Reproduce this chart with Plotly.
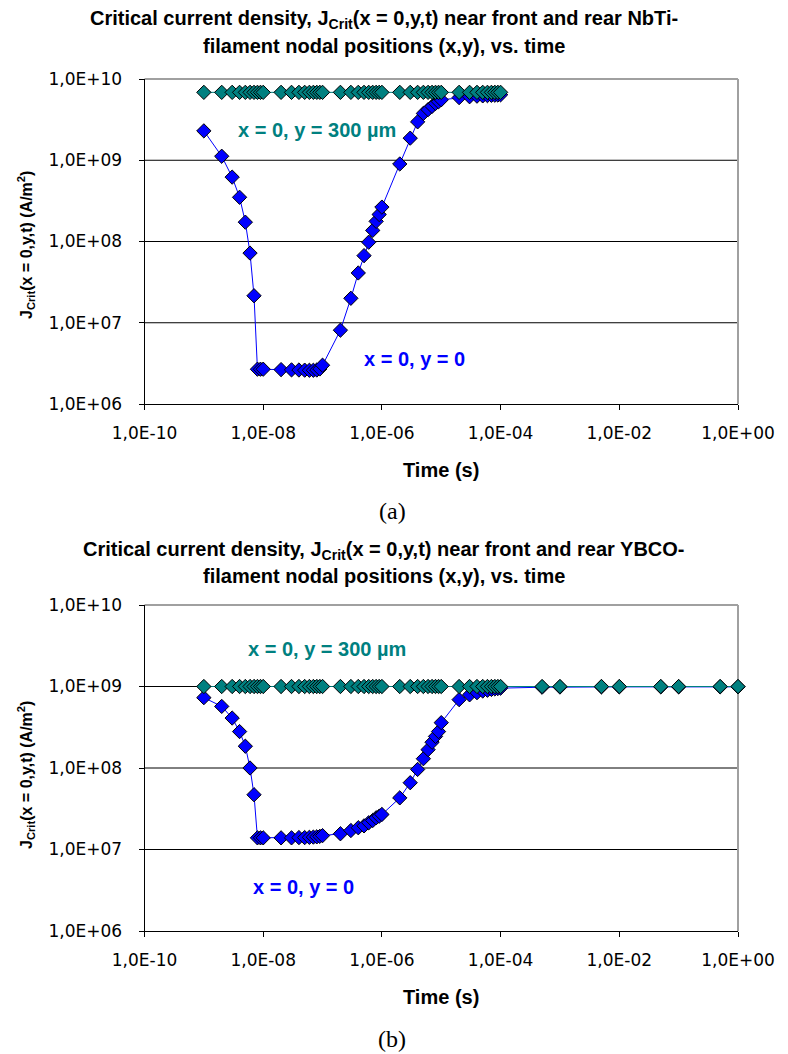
import plotly.graph_objects as go

# ---------------- data ----------------
time_a = [1e-9, 2e-9, 3e-9, 4e-9, 5e-9, 6e-9, 7e-9, 8e-9, 9e-9,
          1e-8, 2e-8, 3e-8, 4e-8, 5e-8, 6e-8, 7e-8, 8e-8, 9e-8,
          1e-7, 2e-7, 3e-7, 4e-7, 5e-7, 6e-7, 7e-7, 8e-7, 9e-7,
          1e-6, 2e-6, 3e-6, 4e-6, 5e-6, 6e-6, 7e-6, 8e-6, 9e-6,
          1e-5, 2e-5, 3e-5, 4e-5, 5e-5, 6e-5, 7e-5, 8e-5, 9e-5,
          1e-4]

nbti_y0 = [2.3e9, 1.12e9, 6.2e8, 3.5e8, 1.73e8, 7.2e7, 2.15e7, 2.68e6, 2.68e6,
           2.68e6, 2.65e6, 2.63e6, 2.62e6, 2.61e6, 2.6e6, 2.6e6, 2.62e6, 2.7e6,
           3.0e6, 8.1e6, 2.0e7, 4.1e7, 6.7e7, 9.8e7, 1.37e8, 1.77e8, 2.15e8,
           2.65e8, 9.0e8, 1.87e9, 2.97e9, 3.77e9, 4.2e9, 4.6e9, 5.0e9, 5.25e9,
           5.55e9, 5.9e9, 6.05e9, 6.15e9, 6.2e9, 6.25e9, 6.3e9, 6.32e9, 6.35e9,
           6.4e9]

nbti_y300 = [6.85e9] * 46

time_b = [1e-9, 2e-9, 3e-9, 4e-9, 5e-9, 6e-9, 7e-9, 8e-9, 9e-9,
          1e-8, 2e-8, 3e-8, 4e-8, 5e-8, 6e-8, 7e-8, 8e-8, 9e-8,
          1e-7, 2e-7, 3e-7, 4e-7, 5e-7, 6e-7, 7e-7, 8e-7, 9e-7,
          1e-6, 2e-6, 3e-6, 4e-6, 5e-6, 6e-6, 7e-6, 8e-6, 9e-6,
          1e-5, 2e-5, 3e-5, 4e-5, 5e-5, 6e-5, 7e-5, 8e-5, 9e-5,
          1e-4, 5e-4, 1e-3, 5e-3, 1e-2, 5e-2, 1e-1, 5e-1, 1e0]

ybco_y0 = [7.3e8, 5.7e8, 4.1e8, 2.8e8, 1.85e8, 1.0e8, 4.7e7, 1.39e7, 1.39e7,
           1.39e7, 1.39e7, 1.39e7, 1.4e7, 1.4e7, 1.41e7, 1.42e7, 1.43e7, 1.45e7,
           1.48e7, 1.56e7, 1.71e7, 1.85e7, 1.95e7, 2.13e7, 2.27e7, 2.45e7, 2.56e7,
           2.69e7, 4.3e7, 6.6e7, 9.6e7, 1.3e8, 1.68e8, 2.07e8, 2.44e8, 2.8e8,
           3.6e8, 6.9e8, 7.9e8, 8.4e8, 8.8e8, 9.0e8, 9.2e8, 9.35e8, 9.45e8,
           9.55e8, 9.8e8, 9.85e8, 9.9e8, 9.9e8, 9.9e8, 9.9e8, 9.9e8, 9.9e8]

ybco_y300 = [1.0e9] * 54

x_tickvals = [1e-10, 1e-8, 1e-6, 1e-4, 1e-2, 1e0]
x_ticktext = ["1,0E-10", "1,0E-08", "1,0E-06", "1,0E-04", "1,0E-02", "1,0E+00"]
y_tickvals = [1e6, 1e7, 1e8, 1e9, 1e10]
y_ticktext = ["1,0E+06", "1,0E+07", "1,0E+08", "1,0E+09", "1,0E+10"]

title_a = ["Critical current density, J<sub>Crit</sub>(x = 0,y,t) near front and rear NbTi-",
           "filament nodal positions (x,y), vs. time"]
title_b = ["Critical current density, J<sub>Crit</sub>(x = 0,y,t) near front and rear YBCO-",
           "filament nodal positions (x,y), vs. time"]
ytitle = "J<sub>Crit</sub>(x = 0,y,t) (A/m<sup>2</sup>)"
xtitle = "Time (s)"
label_300 = "x = 0, y = 300 µm"
label_0 = "x = 0, y = 0"

# ---------------- style ----------------
W, H = 788, 1054
BLUE = "#0000FF"
TEAL = "#008080"
SANS = "Liberation Sans, Arial, sans-serif"
TICKSANS = "DejaVu Sans, Verdana, sans-serif"

def px(x):
    return x / W

def py(y):
    return 1 - y / H

X0, X1 = 144.5, 738
PANELS = [  # top, bottom pixel of plot area
    (79, 404),
    (605, 931),
]

fig = go.Figure()

marker_common = dict(symbol="diamond", size=11, line=dict(color="black", width=1))

series = [
    (time_a, nbti_y0, nbti_y300, "x", "y"),
    (time_b, ybco_y0, ybco_y300, "x2", "y2"),
]
for t, y0, y300, xa, ya in series:
    fig.add_trace(go.Scatter(x=t, y=y0, mode="lines+markers", xaxis=xa, yaxis=ya,
                             line=dict(color=BLUE, width=1), cliponaxis=False,
                             marker=dict(color=BLUE, **marker_common)))
    fig.add_trace(go.Scatter(x=t, y=y300, mode="lines+markers", xaxis=xa, yaxis=ya,
                             line=dict(color=TEAL, width=1), cliponaxis=False,
                             marker=dict(color=TEAL, **marker_common)))

tickfont = dict(family=TICKSANS, size=17, color="black")
for i, (top, bot) in enumerate(PANELS):
    sfx = "" if i == 0 else str(i + 1)
    fig.update_layout(**{
        "xaxis" + sfx: dict(
            domain=[px(X0), px(X1)], anchor="y" + sfx, type="log", range=[-10, 0],
            tickvals=x_tickvals, ticktext=x_ticktext, ticks="outside", ticklen=5,
            tickcolor="black", showline=True, linecolor="black", linewidth=1,
            showgrid=False, zeroline=False, tickfont=tickfont, ticklabelstandoff=9,
            automargin=False,
        ),
        "yaxis" + sfx: dict(
            domain=[py(bot), py(top)], anchor="x" + sfx, type="log", range=[6, 10],
            tickvals=y_tickvals, ticktext=y_ticktext, ticks="outside", ticklen=5,
            tickcolor="black", showline=True, linecolor="black", linewidth=1,
            showgrid=False, zeroline=False,
            tickfont=tickfont, ticklabelstandoff=13, automargin=False,
        ),
    })
    xd = "x" + sfx + " domain"
    yd = "y" + sfx + " domain"
    # horizontal gridlines at 1E+07, 1E+08, 1E+09 (domain fractions of the 4-decade axis)
    for frac in (0.25, 0.5, 0.75):
        fig.add_shape(type="line", xref=xd, yref=yd, x0=0, x1=1, y0=frac, y1=frac,
                      line=dict(color="black", width=1), layer="below")
    # gray plot-area border (top & right)
    fig.add_shape(type="line", xref=xd, yref=yd, x0=0, x1=1, y0=1, y1=1,
                  line=dict(color="#A0A0A0", width=2), layer="below")
    fig.add_shape(type="line", xref=xd, yref=yd, x0=1, x1=1, y0=0, y1=1,
                  line=dict(color="#A0A0A0", width=2), layer="below")

def ann(text, x, y, size, color="black", bold=True, family=SANS, angle=0):
    fig.add_annotation(text=("<b>%s</b>" % text) if bold else text,
                       x=px(x), y=py(y), xref="paper", yref="paper",
                       xanchor="center", yanchor="middle", showarrow=False,
                       textangle=angle,
                       font=dict(family=family, size=size, color=color))

# titles
ann(title_a[0], 384, 19, 20)
ann(title_a[1], 384, 46, 20)
ann(title_b[0], 384, 550, 20)
ann(title_b[1], 384, 576, 20)

# axis titles
ann(ytitle, 26, 245, 16, angle=-90)
ann(ytitle, 26, 775, 16, angle=-90)
ann(xtitle, 441, 470, 20)
ann(xtitle, 441, 997, 20)

# series labels
ann(label_300, 317, 130, 20, color=TEAL)
ann(label_0, 414, 359, 20, color=BLUE)
ann(label_300, 327, 649, 20, color=TEAL)
ann(label_0, 303, 887, 20, color=BLUE)

# panel captions
ann("(a)", 392, 511, 24, bold=False, family="Liberation Serif, Times New Roman, serif")
ann("(b)", 392, 1039, 24, bold=False, family="Liberation Serif, Times New Roman, serif")

fig.update_layout(width=W, height=H, margin=dict(l=0, r=0, t=0, b=0, autoexpand=False),
                  paper_bgcolor="white", plot_bgcolor="white", showlegend=False)

fig.write_html("out.html", config={"displayModeBar": False},
               post_script="document.body.style.margin='0px';document.body.style.padding='0px';")
